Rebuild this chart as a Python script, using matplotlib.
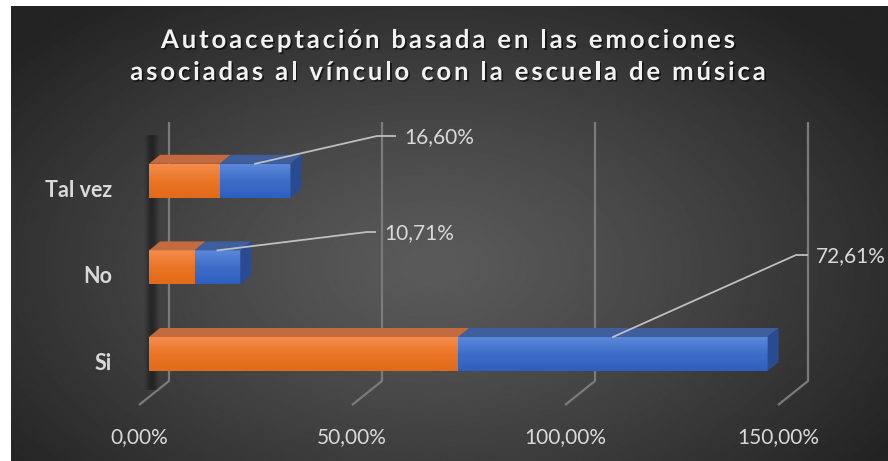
import numpy as np
import matplotlib
matplotlib.use('Agg')
import matplotlib.pyplot as plt
from matplotlib.patches import Polygon
from matplotlib.colors import LinearSegmentedColormap
from matplotlib.font_manager import FontProperties, findfont
from matplotlib.ft2font import FT2Font
import matplotlib.patheffects as pe

categories = ['Si', 'No', 'Tal vez']
pct = [72.61, 10.71, 16.60]
ticks = [0, 50, 100, 150]
title_lines = ['Autoaceptación basada en las emociones',
               'asociadas al vínculo con la escuela de música']

W, H = 888, 461
PPX = 4.26   # pixels per percent
X0 = 149     # pixel x of 0% on the bar front
ROW = 86.6   # pixels between rows
Y0 = 354     # pixel y (from top) of first row


def dx(p):
    return p / PPX


def dy(p):
    return p / ROW


def xp(px):
    return (px - X0) / PPX


def yp(py):
    return (Y0 - py) / ROW


fig = plt.figure(figsize=(W / 100, H / 100), dpi=100, facecolor='white')

# dark radial background (white strip on top/left like the screenshot)
bg = fig.add_axes([11 / W, 0, (W - 11) / W, (H - 6) / H])
yy, xx = np.mgrid[0:H - 6, 0:W - 11]
d = np.sqrt(((xx - 420) / 540.0) ** 2 + ((yy - 260) / 330.0) ** 2)
d = np.clip(d, 0, 1)
g = 0.355 - (0.355 - 0.14) * d ** 1.2
bg.imshow(g, cmap='gray', vmin=0, vmax=1, aspect='auto', interpolation='bilinear')
bg.axis('off')

ax = fig.add_axes([0, 0, 1, 1])
ax.patch.set_alpha(0)
ax.axis('off')

txt_col = '#d9d9d9'

# back wall grid lines + floor
for t in ticks:
    xb = t + dx(20)
    xf = t - dx(10)
    ax.plot([xb, xb, xf], [yp(122), yp(381), yp(405)], color='#7b7b7b',
            lw=1.6, zorder=1, solid_capstyle='butt')
    ax.text(xf, yp(437), ('%.2f' % t).replace('.', ',') + '%', ha='center',
            va='center', color=txt_col, fontsize=15, family='Lato')

# soft dark shadow left of the bars
prof = np.array([0.0, 0.08, 0.2, 0.32, 0.4, 0.4, 0.32, 0.2, 0.08, 0.0])
shadow = np.zeros((1, len(prof), 4))
shadow[0, :, 3] = prof
ax.imshow(shadow, extent=[xp(143), xp(161), yp(390), yp(136)], aspect='auto',
          interpolation='bilinear', zorder=2)

ypos = np.arange(len(categories))
h = dy(34)
ddx, ddy = dx(11), dy(9)

cm_o = LinearSegmentedColormap.from_list('o', ['#F58C4C', '#EA7526', '#E26A18'])
cm_b = LinearSegmentedColormap.from_list('b', ['#5B88DA', '#3E6DC9', '#2F5FBE'])
grad = np.linspace(0, 1, 64).reshape(-1, 1)

bars_o = ax.barh(ypos, pct, height=h, color='#ED7D31', zorder=3)
bars_b = ax.barh(ypos, pct, left=pct, height=h, color='#4472C4', zorder=3)

for bars, cm in [(bars_o, cm_o), (bars_b, cm_b)]:
    for b in bars:
        x0, y0 = b.get_x(), b.get_y()
        im = ax.imshow(grad, cmap=cm, extent=[x0, x0 + b.get_width(), y0, y0 + b.get_height()],
                       aspect='auto', zorder=3.5, interpolation='bilinear')
        im.set_clip_path(b)

for i, v in enumerate(pct):
    yt = i + h / 2
    yb = i - h / 2
    # top faces
    ax.add_patch(Polygon([(0, yt), (v, yt), (v + ddx, yt + ddy), (ddx, yt + ddy)],
                         closed=True, fc='#C36B3F', ec='none', zorder=4))
    ax.add_patch(Polygon([(v, yt), (2 * v, yt), (2 * v + ddx, yt + ddy), (v + ddx, yt + ddy)],
                         closed=True, fc='#3F5E9E', ec='none', zorder=4))
    # right side face
    ax.add_patch(Polygon([(2 * v, yb), (2 * v, yt), (2 * v + ddx, yt + ddy), (2 * v + ddx, yb + ddy)],
                         closed=True, fc='#2B4B90', ec='none', zorder=4))
    ax.text(xp(112), i - dy(9.5), categories[i], ha='right', va='center',
            color=txt_col, fontsize=15.5, family='Lato', weight='bold')

# data labels with leader lines
elbow = [(796, 255), (367, 232), (377, 136)]
line_end = [807, 375, 395]
for i, v in enumerate(pct):
    ex, ey = elbow[i]
    ax.plot([v + v / 2, xp(ex), xp(line_end[i])], [i + h / 2, yp(ey), yp(ey)],
            color='#bfbfbf', lw=1.3, zorder=5)
    ax.text(xp(line_end[i] + 9), yp(ey + 1), ('%.2f' % v).replace('.', ',') + '%',
            ha='left', va='center', color=txt_col, fontsize=15, family='Lato', zorder=5)

ax.set_xlim(xp(0), xp(W))
ax.set_ylim(yp(H), yp(0))

# title drawn letter by letter to get the wide tracking
prop = FontProperties(family='Lato', weight='bold', size=18.5)
ft = FT2Font(findfont(prop))
ft.set_size(18.5, 100)


def advances(s):
    out = []
    for ch in s:
        gl = ft.load_char(ord(ch))
        out.append(gl.linearHoriAdvance / 65536)
    return out


adv1 = advances(title_lines[0])
sp = (574 - sum(adv1)) / (len(title_lines[0]) - 1)
shadow_fx = [pe.SimplePatchShadow(offset=(1.2, -1.2), shadow_rgbFace='black', alpha=0.6),
             pe.Normal()]
for line, base in zip(title_lines, [48, 80]):
    adv = advances(line)
    total = sum(adv) + sp * (len(line) - 1)
    x = 448 - total / 2
    for ch, a in zip(line, adv):
        if ch != ' ':
            fig.text(x / W, 1 - base / H, ch, ha='left', va='baseline', color='#f2f2f2',
                     fontproperties=prop, path_effects=shadow_fx)
        x += a + sp

fig.savefig('out.png', dpi=100, facecolor=fig.get_facecolor())
